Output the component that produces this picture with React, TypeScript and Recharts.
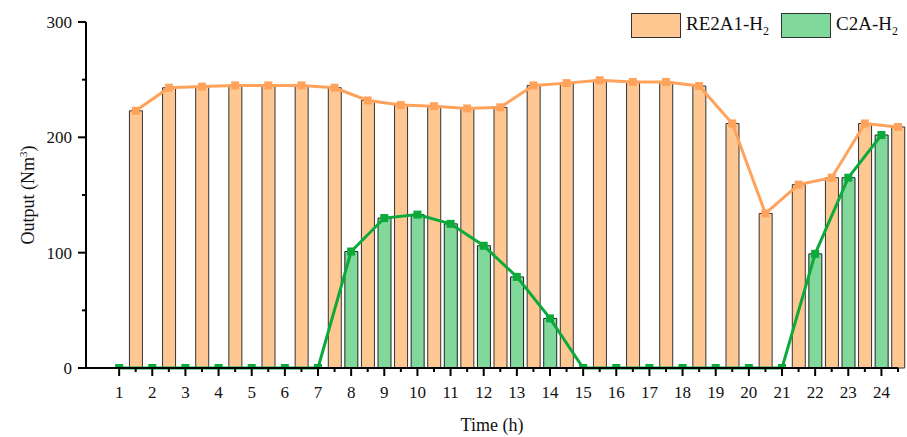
import React from 'react';
import { ComposedChart, Bar, Line, XAxis, YAxis } from 'recharts';

const hours = [1, 2, 3, 4, 5, 6, 7, 8, 9, 10, 11, 12, 13, 14, 15, 16, 17, 18, 19, 20, 21, 22, 23, 24];
const re2a1 = [223, 243, 244, 245, 245, 245, 243, 232, 228, 227, 225, 226, 245, 247, 249.5, 248, 248, 244.5, 212, 134, 159, 165, 212, 209];
const c2a = [0, 0, 0, 0, 0, 0, 0, 101, 130, 133, 125, 106, 79, 43, 0, 0, 0, 0, 0, 0, 0, 99, 165, 202];
const yTicks = [0, 50, 100, 150, 200, 250, 300];

const FONT = '"Liberation Serif", "Times New Roman", serif';
const ORANGE_FILL = '#FFC893';
const ORANGE_LINE = '#FFA35C';
const GREEN_FILL = '#80D99B';
const GREEN_LINE = '#0CAA3A';

// RE2A1 sits between the hour ticks, C2A on them
const data: { x: number; re?: number; c2a?: number }[] = [];
hours.forEach((h, i) => {
  data.push({ x: h, c2a: c2a[i] });
  data.push({ x: h + 0.5, re: re2a1[i] });
});
const xTicks = data.map(d => d.x);

const XTick = (props: any) => {
  const { x, y, payload } = props;
  const major = Number.isInteger(payload.value);
  return (
    <g>
      <line x1={x} x2={x} y1={y} y2={y + (major ? 8 : 4)} stroke="#000" strokeWidth={2} />
      {major && (
        <text x={x} y={y + 30} textAnchor="middle" fontFamily={FONT} fontSize={17} fill="#111">
          {payload.value}
        </text>
      )}
    </g>
  );
};

const YTick = (props: any) => {
  const { x, y, payload } = props;
  const major = payload.value % 100 === 0;
  return (
    <g>
      <line x1={x - (major ? 8 : 4)} x2={x} y1={y} y2={y} stroke="#000" strokeWidth={2} />
      {major && (
        <text x={x - 14} y={y + 6} textAnchor="end" fontFamily={FONT} fontSize={17} fill="#111">
          {payload.value}
        </text>
      )}
    </g>
  );
};

// square markers; the ones sitting on the axis are half hidden by it
const square = (color: string) => (props: any) => {
  const { cx, cy, index, value } = props;
  if (cx == null || cy == null) return <g key={index} />;
  const onAxis = value === 0 || (Array.isArray(value) && value[1] === 0);
  return <rect key={index} x={cx - 4} y={cy - 4} width={8} height={onAxis ? 3 : 8} fill={color} />;
};

const LegendItem = ({ fill, name }: { fill: string; name: string }) => (
  <div style={{ display: 'flex', alignItems: 'center', whiteSpace: 'nowrap' }}>
    <div style={{ width: 48, height: 23, background: fill, border: '1.5px solid #333', marginRight: 5 }} />
    <span style={{ fontFamily: FONT, fontSize: 19, color: '#111', whiteSpace: 'nowrap' }}>
      {name}-H<sub style={{ fontSize: 12 }}>2</sub>
    </span>
  </div>
);

export default function App() {
  return (
    <div style={{ position: 'absolute', left: 0, top: 0, width: 907, height: 437, background: '#fff' }}>
      <ComposedChart width={907} height={437} data={data} margin={{ top: 22, right: 9, bottom: 0, left: 0 }}>
        <XAxis
          dataKey="x"
          type="number"
          domain={[0, 24.5]}
          ticks={xTicks}
          interval={0}
          tick={<XTick />}
          tickSize={0}
          tickMargin={0}
          tickLine={false}
          height={69}
          axisLine={{ stroke: '#000', strokeWidth: 2 }}
          label={{
            content: (p: any) => {
              const { x, width } = p.viewBox;
              return (
                <text x={x + width / 2} y={431} textAnchor="middle" fontFamily={FONT} fontSize={18} fill="#111">
                  Time (h)
                </text>
              );
            },
          }}
        />
        <YAxis
          type="number"
          domain={[0, 300]}
          ticks={yTicks}
          interval={0}
          tick={<YTick />}
          tickSize={0}
          tickMargin={0}
          tickLine={false}
          width={86}
          axisLine={{ stroke: '#000', strokeWidth: 2 }}
          label={{
            content: (p: any) => {
              const { y, height } = p.viewBox;
              return (
                <text
                  transform={`translate(34, ${y + height / 2}) rotate(-90)`}
                  textAnchor="middle"
                  fontFamily={FONT}
                  fontSize={18}
                  fill="#111"
                >
                  Output (Nm<tspan dy={-7} fontSize={11}>3</tspan>
                  <tspan dy={7}>)</tspan>
                </text>
              );
            },
          }}
        />
        <Bar dataKey="re" stackId="s" barSize={13} fill={ORANGE_FILL} stroke="#333" strokeWidth={1} isAnimationActive={false} />
        <Bar dataKey="c2a" stackId="s" barSize={13} fill={GREEN_FILL} stroke="#222" strokeWidth={1} isAnimationActive={false} />
        <Line
          dataKey="re"
          connectNulls
          stroke={ORANGE_LINE}
          strokeWidth={3}
          dot={square(ORANGE_LINE)}
          activeDot={false}
          isAnimationActive={false}
        />
        <Line
          dataKey="c2a"
          connectNulls
          stroke={GREEN_LINE}
          strokeWidth={3}
          dot={square(GREEN_LINE)}
          activeDot={false}
          isAnimationActive={false}
        />
      </ComposedChart>
      <div style={{ position: 'absolute', left: 631, top: 13, display: 'flex', gap: 12, whiteSpace: 'nowrap' }}>
        <LegendItem fill={ORANGE_FILL} name="RE2A1" />
        <LegendItem fill={GREEN_FILL} name="C2A" />
      </div>
    </div>
  );
}
